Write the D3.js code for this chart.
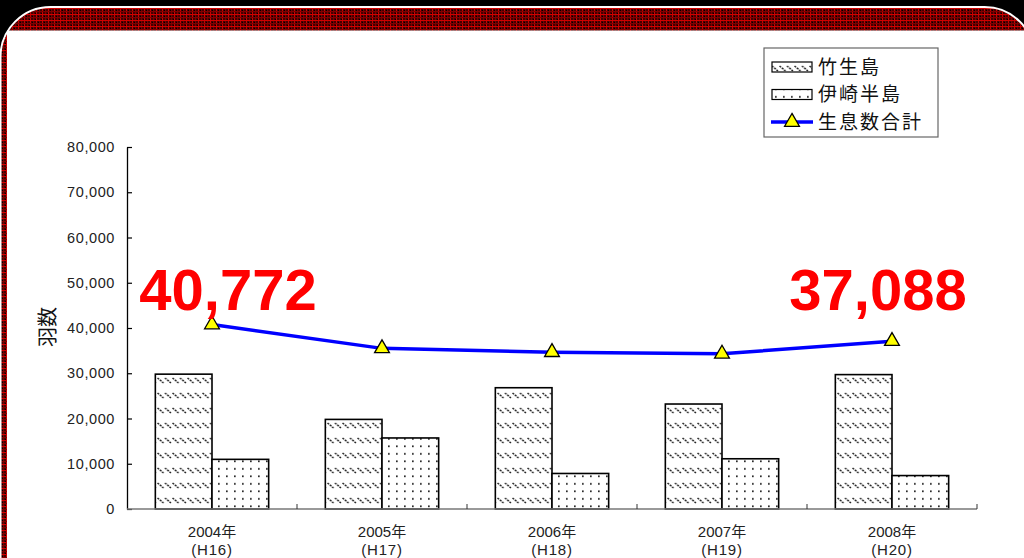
<!DOCTYPE html>
<html>
<head>
<meta charset="utf-8">
<script src="https://cdn.jsdelivr.net/npm/d3@7"></script>
<style>
  html, body { margin: 0; padding: 0; background: #000; }
  svg { display: block; }
</style>
</head>
<body>
<svg id="chart" width="1024" height="558"></svg>
<script>
// Bird counts (羽数) per survey year
const years = ["2004年", "2005年", "2006年", "2007年", "2008年"];
const eras = ["(H16)", "(H17)", "(H18)", "(H19)", "(H20)"];
const seriesNames = ["竹生島", "伊崎半島"];
const chikubushima = [29800, 19800, 26800, 23200, 29700];
const isakiHanto = [10972, 15700, 7850, 11100, 7388];
const totalName = "生息数合計";
const yTicks = [0, 10000, 20000, 30000, 40000, 50000, 60000, 70000, 80000];
const yTitle = "羽数";

const totals = years.map((_, i) => chikubushima[i] + isakiHanto[i]);

const svg = d3.select("#chart");
const W = 1024, H = 558;
const latin = "'Liberation Sans', Arial, 'Noto Sans CJK JP', sans-serif";
const cjk = "'Noto Sans CJK JP', 'Liberation Sans', sans-serif";

const defs = svg.append("defs");

// dark red plaid for the frame
const plaid = defs.append("pattern").attr("id", "plaid")
  .attr("patternUnits", "userSpaceOnUse").attr("width", 6).attr("height", 6);
plaid.append("rect").attr("width", 6).attr("height", 6).attr("fill", "#450000");
plaid.append("rect").attr("x", 0).attr("y", 0).attr("width", 1).attr("height", 6).attr("fill", "#c80000");
plaid.append("rect").attr("x", 3).attr("y", 0).attr("width", 1).attr("height", 6).attr("fill", "#780000");
plaid.append("rect").attr("x", 0).attr("y", 2).attr("width", 6).attr("height", 1).attr("fill", "#d00000");
plaid.append("rect").attr("x", 0).attr("y", 5).attr("width", 6).attr("height", 1).attr("fill", "#800000");
plaid.append("rect").attr("x", 2).attr("y", 4).attr("width", 1).attr("height", 1).attr("fill", "#000");
plaid.append("rect").attr("x", 5).attr("y", 1).attr("width", 1).attr("height", 1).attr("fill", "#000");

// diagonal dash hatch for 竹生島
const hatch = defs.append("pattern").attr("id", "hatch")
  .attr("patternUnits", "userSpaceOnUse").attr("width", 7.5).attr("height", 15);
hatch.append("rect").attr("width", 7.5).attr("height", 15).attr("fill", "#fff");
hatch.append("line").attr("x1", 0.5).attr("y1", 3).attr("x2", 6.5).attr("y2", 8)
  .attr("stroke", "#222").attr("stroke-width", 1.5).attr("stroke-dasharray", "2,1");

// dot grid for 伊崎半島
const dots = defs.append("pattern").attr("id", "dots")
  .attr("patternUnits", "userSpaceOnUse").attr("width", 8).attr("height", 7.5);
dots.append("rect").attr("width", 8).attr("height", 7.5).attr("fill", "#fff");
dots.append("rect").attr("x", 3).attr("y", 3).attr("width", 1.7).attr("height", 1.7).attr("fill", "#222");

const fills = ["url(#hatch)", "url(#dots)"];

// frame: black ground, rounded plaid band, white panel
svg.append("rect").attr("width", W).attr("height", H).attr("fill", "#000");
svg.append("rect").attr("x", 0.5).attr("y", 7).attr("width", 1034).attr("height", 600)
  .attr("rx", 50).attr("ry", 50).attr("fill", "url(#plaid)")
  .attr("stroke", "#fff").attr("stroke-width", 2);
svg.append("rect").attr("x", 7).attr("y", 30.5).attr("width", W - 7).attr("height", H - 30.5)
  .attr("fill", "#fff");

// plot area
const plotL = 127, plotR = 977, plotT = 147, plotB = 509;

const x0 = d3.scaleBand().domain(years).range([plotL, plotR]).padding(0);
const x1 = d3.scaleBand().domain(seriesNames).range([0, x0.bandwidth()])
  .paddingInner(0).paddingOuter(0.5);
const y = d3.scaleLinear().domain([0, 80000]).range([plotB, plotT]);

// bars
const barData = years.map((yr, i) => ({ yr, vals: [chikubushima[i], isakiHanto[i]] }));
const groups = svg.append("g").selectAll("g").data(barData).join("g")
  .attr("transform", d => `translate(${x0(d.yr)},0)`);
groups.selectAll("rect").data(d => d.vals.map((v, k) => ({ k, v }))).join("rect")
  .attr("x", d => x1(seriesNames[d.k]))
  .attr("y", d => y(d.v))
  .attr("width", x1.bandwidth())
  .attr("height", d => y(0) - y(d.v))
  .attr("fill", d => fills[d.k])
  .attr("stroke", "#000").attr("stroke-width", 1.6);

// y axis
const yAxis = svg.append("g").attr("transform", `translate(${plotL},0)`)
  .call(d3.axisLeft(y).tickValues(yTicks).tickFormat(d3.format(","))
    .tickSizeInner(-5).tickSizeOuter(0).tickPadding(12));
yAxis.select(".domain").attr("stroke", "#000").attr("stroke-width", 1.3);
yAxis.selectAll(".tick line").attr("stroke", "#000").attr("stroke-width", 1.2);
yAxis.selectAll(".tick text").attr("font-family", latin).attr("font-size", 14.5)
  .attr("letter-spacing", 0.6).attr("fill", "#222");

// x axis line with ticks on category boundaries
const xAxis = svg.append("g");
xAxis.append("line").attr("x1", plotL).attr("x2", plotR)
  .attr("y1", y(0)).attr("y2", y(0)).attr("stroke", "#777").attr("stroke-width", 1.5);
const bounds = years.map(d => x0(d)).concat([x0.range()[1]]);
xAxis.selectAll("line.tk").data(bounds.slice(1)).join("line").attr("class", "tk")
  .attr("x1", d => d).attr("x2", d => d)
  .attr("y1", y(0)).attr("y2", y(0) - 5).attr("stroke", "#333").attr("stroke-width", 1);
xAxis.selectAll("text.lab").data(years).join("text").attr("class", "lab")
  .attr("x", d => x0(d) + x0.bandwidth() / 2)
  .attr("y", 537)
  .attr("text-anchor", "middle").attr("font-family", latin).attr("font-size", 15)
  .attr("fill", "#222").text(d => d);
xAxis.selectAll("text.era").data(eras).join("text").attr("class", "era")
  .attr("x", (d, i) => x0(years[i]) + x0.bandwidth() / 2)
  .attr("y", 555)
  .attr("text-anchor", "middle").attr("font-family", latin).attr("font-size", 15)
  .attr("letter-spacing", 0.8).attr("fill", "#222").text(d => d);

// y title
svg.append("text").attr("transform", `translate(48,327) rotate(-90)`)
  .attr("text-anchor", "middle").attr("dy", "0.35em").attr("font-family", cjk)
  .attr("font-size", 20).attr("fill", "#111").text(yTitle);

// total line
const cx = (d, i) => x0(years[i]) + x0.bandwidth() / 2;
svg.append("path").datum(totals)
  .attr("d", d3.line().x(cx).y(d => y(d)))
  .attr("fill", "none").attr("stroke", "#0000ff").attr("stroke-width", 3.5);
svg.append("g").selectAll("path").data(totals).join("path")
  .attr("transform", (d, i) => `translate(${cx(d, i)},${y(d)})`)
  .attr("d", d3.symbol(d3.symbolTriangle, 95))
  .attr("fill", "#ffff00").attr("stroke", "#000").attr("stroke-width", 1.3);

// first / last total callouts
const callouts = [0, totals.length - 1];
svg.append("g").selectAll("text").data(callouts).join("text")
  .attr("x", i => cx(totals[i], i) + (i === 0 ? 16 : -14))
  .attr("y", 310)
  .attr("text-anchor", "middle").attr("font-family", latin).attr("font-weight", "bold")
  .attr("font-size", 58).attr("fill", "#ff0000")
  .text(i => d3.format(",")(totals[i]));

// legend
const lg = svg.append("g").attr("transform", "translate(764,48)");
lg.append("rect").attr("width", 174).attr("height", 89)
  .attr("fill", "#fff").attr("stroke", "#666").attr("stroke-width", 1.2);
const rows = [seriesNames[0], seriesNames[1], totalName];
rows.forEach((name, i) => {
  const cy = 19 + i * 27.5;
  if (i < 2) {
    lg.append("rect").attr("x", 8).attr("y", cy - 5).attr("width", 40).attr("height", 10)
      .attr("fill", fills[i]).attr("stroke", "#000").attr("stroke-width", 1.2);
  } else {
    lg.append("line").attr("x1", 7).attr("x2", 49).attr("y1", cy).attr("y2", cy)
      .attr("stroke", "#0000ff").attr("stroke-width", 3.5);
    lg.append("path").attr("transform", `translate(28,${cy})`)
      .attr("d", d3.symbol(d3.symbolTriangle, 95))
      .attr("fill", "#ffff00").attr("stroke", "#000").attr("stroke-width", 1.3);
  }
  lg.append("text").attr("x", 54).attr("y", cy).attr("dy", "0.36em")
    .attr("font-family", cjk).attr("font-size", 19).attr("letter-spacing", 2)
    .attr("fill", "#111").text(name);
});
</script>
</body>
</html>
